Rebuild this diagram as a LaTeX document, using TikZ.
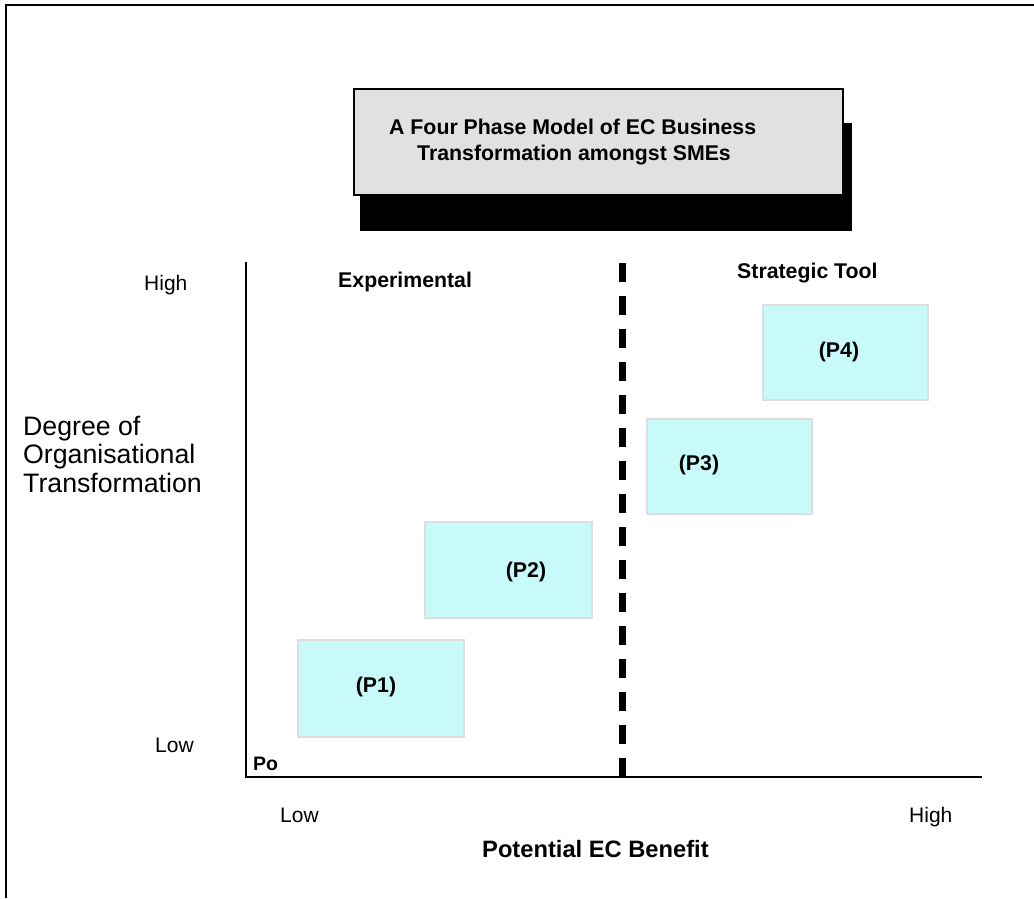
\documentclass[tikz,border=0pt]{standalone}
\usepackage{fontspec}
\setmainfont{Liberation Sans}
\begin{document}
\begin{tikzpicture}[x=1pt,y=-1pt,
  phasebox/.style={draw=black!13, line width=2.2pt, fill=phasecyan, inner sep=0pt},
  boldlbl/.style={font=\bfseries\fontsize{21.3}{25}\selectfont, inner sep=0pt},
  plainlbl/.style={font=\fontsize{21}{25}\selectfont, inner sep=0pt},
  axis/.style={line width=2.6pt}]
\definecolor{phasecyan}{HTML}{C9FAFA}
\definecolor{titlegray}{HTML}{E2E1DF}
\useasboundingbox (0,0) rectangle (1034,898);
\fill[white] (0,0) rectangle (1034,898);

% frame (top and left edges)
\coordinate (frameBL) at (6,898);
\coordinate (frameTL) at (6,5);
\coordinate (frameTR) at (1034,5);
\draw[line width=2pt] (frameBL) -- (frameTL) -- (frameTR);

% title box with drop shadow
\fill[black] (360,123) rectangle (852,231);
\node[draw=black, line width=1.8pt, fill=titlegray, minimum width=489pt, minimum height=106pt,
      inner sep=0pt, anchor=north west] (title) at (353,88) {};
\node[boldlbl, anchor=base west] (titleA) at (389,134) {A Four Phase Model of EC Business};
\node[boldlbl, anchor=base west] (titleB) at (417,160) {Transformation amongst SMEs};

% axes
\coordinate (yTop) at (246,262);
\coordinate (origin) at (246,778);
\coordinate (xEnd) at (982,777);
\draw[axis] (yTop) -- (origin);
\draw[axis] (246,777) -- (xEnd);

% divider between the two regions
\coordinate (divTop) at (622,263);
\coordinate (divBot) at (622,780);
\draw[line width=7pt, dash pattern=on 19pt off 14pt] (divTop) -- (divBot);

% phase boxes
\node[phasebox, minimum width=166pt, minimum height=97pt, anchor=north west] (p1) at (297,639) {};
\node[phasebox, minimum width=167pt, minimum height=96pt, anchor=north west] (p2) at (424,521) {};
\node[phasebox, minimum width=165pt, minimum height=95pt, anchor=north west] (p3) at (646,418) {};
\node[phasebox, minimum width=165pt, minimum height=95pt, anchor=north west] (p4) at (762,304) {};
\node[boldlbl] (p1t) at (376,687) {(P1)};
\node[boldlbl] (p2t) at (526,572) {(P2)};
\node[boldlbl] (p3t) at (699,465) {(P3)};
\node[boldlbl] (p4t) at (839,352) {(P4)};

% region labels
\node[boldlbl, anchor=base west] (exper) at (338,287) {Experimental};
\node[boldlbl, anchor=base west] (strat) at (737,278) {Strategic Tool};
\node[boldlbl, font=\bfseries\fontsize{19.5}{22}\selectfont, anchor=base west] (po) at (253,770) {Po};

% axis labels
\node[plainlbl, anchor=base west] (yHigh) at (144,290) {High};
\node[plainlbl, anchor=base west] (yLow) at (155,752) {Low};
\node[plainlbl, anchor=base west] (xLow) at (280,822) {Low};
\node[plainlbl, anchor=base west] (xHigh) at (909,822) {High};
\node[font=\bfseries\fontsize{23.7}{28}\selectfont, inner sep=0pt, anchor=base west] (xTitle) at (482,857) {Potential EC Benefit};
\node[font=\fontsize{26.7}{28.5}\selectfont, inner sep=0pt, anchor=base west, align=left] (yTitle) at (23,492)
  {Degree of\\Organisational\\Transformation};
\end{tikzpicture}
\end{document}
